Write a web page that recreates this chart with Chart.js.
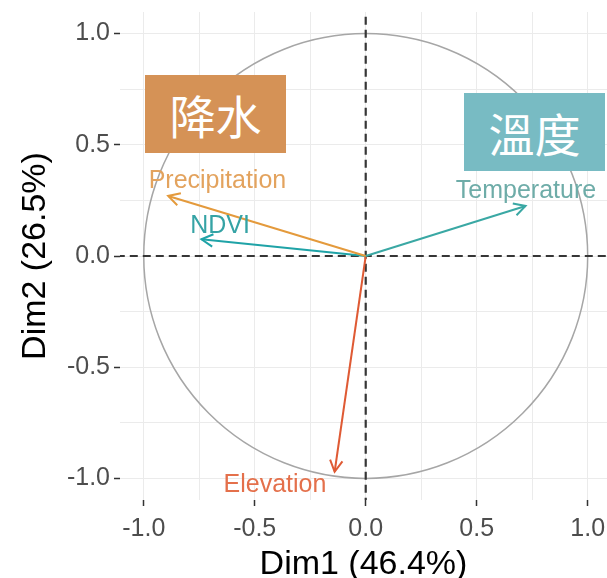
<!DOCTYPE html>
<html>
<head>
<meta charset="utf-8">
<script src="https://cdn.jsdelivr.net/npm/chart.js@4.4.1/dist/chart.umd.min.js"></script>
<style>
  html, body { margin: 0; padding: 0; background: #fff; }
  #wrap { position: relative; width: 607px; height: 578px; overflow: hidden; }
  .tag {
    position: absolute; width: 141px; height: 78px;
    color: #fff; font: 46px "Noto Sans CJK TC", "Noto Sans CJK SC", sans-serif;
    display: flex; align-items: center; justify-content: center; line-height: 1;
  }
</style>
</head>
<body>
<div id="wrap">
  <canvas id="pca" width="607" height="578"></canvas>
  <div class="tag" style="left:145px; top:75px; background:#d59256;">降水</div>
  <div class="tag" style="left:464px; top:93px; background:#78bbc3;">溫度</div>
</div>
<script>
'use strict';

/* variable loadings on Dim1 / Dim2 */
const VARS   = ['Precipitation', 'NDVI', 'Temperature', 'Elevation'];
const DIM1   = [-0.89, -0.74, 0.72, -0.14];
const DIM2   = [ 0.27,  0.075, 0.225, -0.97];
/* where the variable names sit (data units) */
const LAB_X  = [-0.668, -0.656, 0.722, -0.409];
const LAB_Y  = [ 0.335,  0.134, 0.292, -1.028];

const X_TITLE = 'Dim1 (46.4%)';
const Y_TITLE = 'Dim2 (26.5%)';

/* colours */
const C_ARROW = ['#e49a3c', '#1fa3a7', '#3aa8a4', '#df5a34'];
const C_LABEL = ['#e3a35e', '#35a3a5', '#6eaca8', '#e4704b'];
const C_GRID  = '#ebebeb';
const C_TICK  = '#4d4d4d';
const C_ZERO  = '#363636';
const C_CIRC  = '#a6a6a6';
const FONT    = '"Liberation Sans", Arial, sans-serif';

const isMajor = v => Math.abs(v * 2 - Math.round(v * 2)) < 1e-6;

/* zero reference lines */
const zeroLines = [
  { data: [{ x: -2, y: 0 }, { x: 2, y: 0 }] },
  { data: [{ x: 0, y: -2 }, { x: 0, y: 2 }] },
].map(d => ({
  ...d,
  showLine: true, borderColor: C_ZERO, borderWidth: 2.2,
  borderDash: [8, 5], pointRadius: 0, order: 2,
}));

const arrows = VARS.map((name, i) => ({
  label: name,
  data: [{ x: 0, y: 0 }, { x: DIM1[i], y: DIM2[i] }],
  showLine: true, borderColor: C_ARROW[i], borderWidth: 2,
  pointRadius: 0, order: 1,
}));

/* unit circle, arrow heads, variable names */
const pcaDecor = {
  id: 'pcaDecor',
  beforeDatasetsDraw(chart) {
    const { ctx, scales: { x, y }, chartArea: a } = chart;
    ctx.save();
    ctx.beginPath();
    ctx.rect(a.left, a.top, a.right - a.left, a.bottom - a.top);
    ctx.clip();
    const cx = x.getPixelForValue(0), cy = y.getPixelForValue(0);
    const rx = x.getPixelForValue(1) - cx, ry = cy - y.getPixelForValue(1);
    ctx.beginPath();
    ctx.ellipse(cx, cy, rx, ry, 0, 0, Math.PI * 2);
    ctx.strokeStyle = C_CIRC;
    ctx.lineWidth = 1.5;
    ctx.stroke();
    ctx.restore();
  },
  afterDatasetsDraw(chart) {
    const { ctx, scales: { x, y } } = chart;
    ctx.save();
    const x0 = x.getPixelForValue(0), y0 = y.getPixelForValue(0);
    VARS.forEach((name, i) => {
      const px = x.getPixelForValue(DIM1[i]), py = y.getPixelForValue(DIM2[i]);
      const ang = Math.atan2(py - y0, px - x0);
      const L = 13, w = 0.5;
      ctx.beginPath();
      ctx.moveTo(px - L * Math.cos(ang - w), py - L * Math.sin(ang - w));
      ctx.lineTo(px, py);
      ctx.lineTo(px - L * Math.cos(ang + w), py - L * Math.sin(ang + w));
      ctx.strokeStyle = C_ARROW[i];
      ctx.lineWidth = 2;
      ctx.lineJoin = 'miter';
      ctx.stroke();

      ctx.font = '25px ' + FONT;
      ctx.fillStyle = C_LABEL[i];
      ctx.textAlign = 'center';
      ctx.textBaseline = 'middle';
      ctx.fillText(name, x.getPixelForValue(LAB_X[i]), y.getPixelForValue(LAB_Y[i]));
    });
    ctx.restore();
  },
};

const axisCommon = {
  type: 'linear',
  border: { display: false },
  grid: {
    color: C_GRID, lineWidth: 1,
    tickLength: 6, tickWidth: 1.5,
    tickColor: c => isMajor(c.tick.value) ? '#333333' : 'rgba(0,0,0,0)',
  },
  ticks: {
    stepSize: 0.25, includeBounds: false, autoSkip: false, maxRotation: 0,
    color: C_TICK, font: { family: FONT, size: 25 },
    callback: v => isMajor(v) ? v.toFixed(1) : '',
  },
};

new Chart(document.getElementById('pca'), {
  type: 'scatter',
  data: { datasets: [...zeroLines, ...arrows] },
  options: {
    responsive: false,
    animation: false,
    layout: { padding: { top: 12, right: 0, left: 0, bottom: 0 } },
    plugins: { legend: { display: false }, tooltip: { enabled: false } },
    scales: {
      x: {
        ...axisCommon,
        min: -1.107, max: 1.087,
        ticks: { ...axisCommon.ticks, padding: 8 },
        title: {
          display: true, text: X_TITLE, color: '#000',
          font: { family: FONT, size: 34, lineHeight: 0.8 }, padding: 0,
        },
        afterFit: s => { s.height = 78; s.paddingLeft = 0; s.paddingRight = 0; },
      },
      y: {
        ...axisCommon,
        min: -1.097, max: 1.097,
        ticks: { ...axisCommon.ticks, padding: 4 },
        title: {
          display: true, text: Y_TITLE, color: '#000',
          font: { family: FONT, size: 34, lineHeight: 1.2 }, padding: { top: 15, bottom: 0 },
        },
        afterFit: s => { s.width = 120; s.paddingTop = 0; s.paddingBottom = 0; },
      },
    },
  },
  plugins: [pcaDecor],
});
</script>
</body>
</html>
